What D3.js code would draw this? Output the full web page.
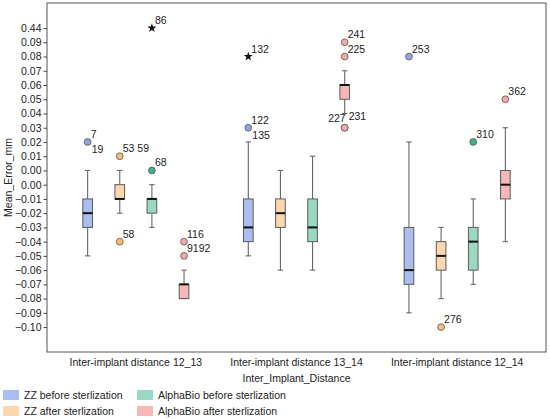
<!DOCTYPE html>
<html>
<head>
<meta charset="utf-8">
<script src="https://cdn.jsdelivr.net/npm/d3@7"></script>
<style>
  body { margin: 0; background: #fff; }
  text { font-family: "Liberation Sans", Arial, sans-serif; fill: #222; }
</style>
</head>
<body>
<div id="chart"></div>
<script>
const width = 550;
const height = 419;
const margin = {left: 47, right: 4, top: 3, bottom: 67};

// categories on the x axis and the hue groups inside each category
const categories = ["Inter-implant distance 12_13", "Inter-implant distance 13_14", "Inter-implant distance 12_14"];
const groups = ["ZZ before sterlization", "ZZ after sterlization", "AlphaBio before sterlization", "AlphaBio after sterlization"];

// y tick positions (axis units) and the labels printed on them in the original
const tickValues = [0.11, 0.10, 0.09, 0.08, 0.07, 0.06, 0.05, 0.04, 0.03, 0.02, 0.01, 0.00,
  -0.01, -0.02, -0.03, -0.04, -0.05, -0.06, -0.07, -0.08, -0.09, -0.10];
const tickLabels = ["0.44", "0.09", "0.08", "0.07", "0.06", "0.05", "0.04", "0.03", "0.02", "0.01", "0.00", "0.00",
  "−0.01", "−0.02", "−0.03", "−0.04", "−0.05", "−0.06", "−0.07", "−0.08", "−0.09", "−0.10"];

// five number summaries per category: [whisker low, q1, median, q3, whisker high]
const zzBefore = [[-0.05, -0.03, -0.02, -0.01, 0.01], [-0.05, -0.04, -0.03, -0.01, 0.03], [-0.09, -0.07, -0.06, -0.03, 0.03]];
const zzAfter = [[-0.02, -0.01, -0.01, 0.00, 0.01], [-0.06, -0.03, -0.02, -0.01, 0.01], [-0.08, -0.06, -0.05, -0.04, -0.03]];
const alphaBefore = [[-0.03, -0.02, -0.01, -0.01, 0.00], [-0.06, -0.04, -0.03, -0.01, 0.02], [-0.07, -0.06, -0.04, -0.03, -0.01]];
const alphaAfter = [[-0.08, -0.08, -0.07, -0.07, -0.06], [0.05, 0.06, 0.07, 0.07, 0.08], [-0.04, -0.01, 0.00, 0.01, 0.04]];
const seriesStats = [zzBefore, zzAfter, alphaBefore, alphaAfter];

// outliers: category index, group index, value, label, marker type
const outlierCat = [0, 0, 0, 0, 0, 0, 0, 1, 1, 1, 1, 1, 1, 2, 2, 2, 2];
const outlierGroup = [0, 1, 1, 2, 2, 3, 3, 0, 0, 3, 3, 3, 3, 0, 1, 2, 3];
const outlierValue = [0.03, 0.02, -0.04, 0.01, 0.11, -0.04, -0.05, 0.09, 0.04, 0.10, 0.09, 0.04, 0.04, 0.09, -0.10, 0.03, 0.06];
const outlierLabel = ["7|19", "53 59", "58", "68", "86", "116", "9192", "132", "122|135", "241", "225", "227", "231", "253", "276", "310", "362"];
const outlierMarker = ["o", "o", "o", "o", "*", "o", "o", "*", "o", "o", "o", "o", "o", "o", "o", "o", "o"];

const boxFill = ["#aabff0", "#fdd8ae", "#9ad8c0", "#f6b7bb"];
const dotFill = ["#8fa6e2", "#f7bd7a", "#45b085", "#f2a9ae"];

const svg = d3.select("#chart")
  .append("svg")
  .attr("width", width)
  .attr("height", height);

const plotBottom = height - margin.bottom;
const plotRight = width - margin.right;

// y scale, axis units
let yScale = d3.scaleLinear()
  .domain([-0.1175, 0.1276])
  .range([plotBottom, margin.top]);

// x band for the categories, inner band for the hue groups
let xScale = d3.scaleBand()
  .domain(categories)
  .range([margin.left + 8.5, plotRight - 8.5]);

let hueScale = d3.scaleBand()
  .domain(d3.range(groups.length))
  .range([-0.4 * xScale.bandwidth(), 0.4 * xScale.bandwidth()]);

const boxW = hueScale.bandwidth() * 0.3;
const capW = boxW * 0.55;
const cx = (c, g) => xScale(categories[c]) + xScale.bandwidth() / 2 + hueScale(g) + hueScale.bandwidth() / 2;

// frame
svg.append("rect")
  .attr("x", margin.left)
  .attr("y", margin.top)
  .attr("width", plotRight - margin.left)
  .attr("height", plotBottom - margin.top)
  .attr("fill", "none")
  .attr("stroke", "#555")
  .attr("stroke-width", 1);

// y axis
const yAxis = svg.append("g")
  .attr("transform", `translate(${margin.left},0)`)
  .call(d3.axisLeft(yScale)
    .tickValues(tickValues)
    .tickFormat((d, i) => tickLabels[i])
    .tickSize(3.5)
    .tickPadding(2));
yAxis.select(".domain").remove();
yAxis.selectAll(".tick line").attr("stroke", "#444");
yAxis.selectAll(".tick text").attr("font-size", "10.5px").attr("fill", "#222");

// x axis labels (no tick lines)
const xAxis = svg.append("g")
  .attr("transform", `translate(0,${plotBottom})`)
  .call(d3.axisBottom(xScale).tickSize(0).tickPadding(7));
xAxis.select(".domain").remove();
xAxis.selectAll(".tick text").attr("font-size", "10.5px").attr("fill", "#222");

// axis titles
svg.append("text")
  .attr("x", xScale(categories[1]) + xScale.bandwidth() / 2)
  .attr("y", plotBottom + 30)
  .attr("text-anchor", "middle")
  .attr("font-size", "10.5px")
  .text("Inter_Implant_Distance");

svg.append("text")
  .attr("transform", `translate(12,${(margin.top + plotBottom) / 2}) rotate(-90)`)
  .attr("text-anchor", "middle")
  .attr("font-size", "10.5px")
  .text("Mean_Error_mm");

// boxes
const boxes = [];
seriesStats.forEach((series, g) => {
  series.forEach((s, c) => boxes.push({c: c, g: g, lo: s[0], q1: s[1], med: s[2], q3: s[3], hi: s[4]}));
});

const boxG = svg.selectAll(".box")
  .data(boxes)
  .enter()
  .append("g")
  .attr("class", "box");

// whiskers
boxG.append("line")
  .attr("x1", d => cx(d.c, d.g)).attr("x2", d => cx(d.c, d.g))
  .attr("y1", d => yScale(d.hi)).attr("y2", d => yScale(d.q3))
  .attr("stroke", "#666").attr("stroke-width", 1.1);
boxG.append("line")
  .attr("x1", d => cx(d.c, d.g)).attr("x2", d => cx(d.c, d.g))
  .attr("y1", d => yScale(d.q1)).attr("y2", d => yScale(d.lo))
  .attr("stroke", "#666").attr("stroke-width", 1.1);
// caps
boxG.append("line")
  .attr("x1", d => cx(d.c, d.g) - capW / 2).attr("x2", d => cx(d.c, d.g) + capW / 2)
  .attr("y1", d => yScale(d.hi)).attr("y2", d => yScale(d.hi))
  .attr("stroke", "#666").attr("stroke-width", 1.1);
boxG.append("line")
  .attr("x1", d => cx(d.c, d.g) - capW / 2).attr("x2", d => cx(d.c, d.g) + capW / 2)
  .attr("y1", d => yScale(d.lo)).attr("y2", d => yScale(d.lo))
  .attr("stroke", "#666").attr("stroke-width", 1.1);
// box
boxG.append("rect")
  .attr("x", d => cx(d.c, d.g) - boxW / 2)
  .attr("y", d => yScale(d.q3))
  .attr("width", boxW)
  .attr("height", d => Math.max(0.5, yScale(d.q1) - yScale(d.q3)))
  .attr("fill", d => boxFill[d.g])
  .attr("stroke", "#5a5a5a")
  .attr("stroke-width", 1);
// median
boxG.append("line")
  .attr("x1", d => cx(d.c, d.g) - boxW / 2).attr("x2", d => cx(d.c, d.g) + boxW / 2)
  .attr("y1", d => yScale(d.med)).attr("y2", d => yScale(d.med))
  .attr("stroke", "#111").attr("stroke-width", 2);

// outliers
const outliers = outlierValue.map((v, i) => ({
  c: outlierCat[i], g: outlierGroup[i], v: v, label: outlierLabel[i], marker: outlierMarker[i]
}));

svg.selectAll(".dot")
  .data(outliers.filter(d => d.marker === "o"))
  .enter()
  .append("circle")
  .attr("class", "dot")
  .attr("cx", d => cx(d.c, d.g))
  .attr("cy", d => yScale(d.v))
  .attr("r", 3.4)
  .attr("fill", d => dotFill[d.g])
  .attr("stroke", "#555")
  .attr("stroke-width", 0.8);

svg.selectAll(".star")
  .data(outliers.filter(d => d.marker === "*"))
  .enter()
  .append("path")
  .attr("class", "star")
  .attr("transform", d => `translate(${cx(d.c, d.g)},${yScale(d.v)})`)
  .attr("d", d3.symbol().type(d3.symbolStar).size(26))
  .attr("fill", "#111");

// outlier labels: "a|b" puts a above and b below, "227"/"231" sit left and right
outliers.forEach(d => {
  const x = cx(d.c, d.g);
  const y = yScale(d.v);
  const parts = d.label.split("|");
  if (d.label === "227") {
    svg.append("text").attr("x", x + 1).attr("y", y - 6).attr("text-anchor", "end")
      .attr("font-size", "10.5px").text(d.label);
  } else if (d.label === "231") {
    svg.append("text").attr("x", x + 4).attr("y", y - 8)
      .attr("font-size", "10.5px").text(d.label);
  } else {
    svg.append("text").attr("x", x + 3).attr("y", y - 4)
      .attr("font-size", "10.5px").text(parts[0]);
    if (parts.length > 1) {
      svg.append("text").attr("x", x + 4).attr("y", y + 11)
        .attr("font-size", "10.5px").text(parts[1]);
    }
  }
});

// legend, two columns
const legendX = [3, 137];
const legendY = [395, 411];
const legend = svg.selectAll(".legend")
  .data(groups)
  .enter()
  .append("g")
  .attr("class", "legend")
  .attr("transform", (d, i) => `translate(${legendX[Math.floor(i / 2)]},${legendY[i % 2]})`);

legend.append("rect")
  .attr("x", 0).attr("y", -5)
  .attr("width", 16).attr("height", 10)
  .attr("fill", (d, i) => boxFill[i]);

legend.append("text")
  .attr("x", 21).attr("y", 4)
  .attr("font-size", "10.5px")
  .text(d => d);
</script>
</body>
</html>
